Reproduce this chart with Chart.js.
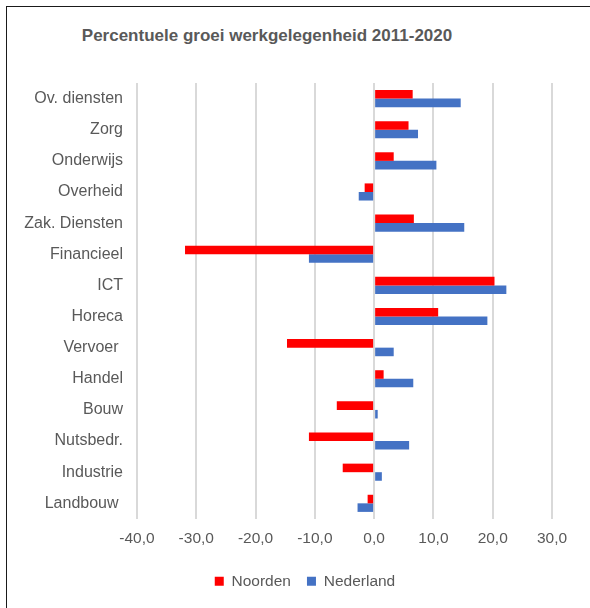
<!DOCTYPE html>
<html>
<head>
<meta charset="utf-8">
<script src="https://cdn.jsdelivr.net/npm/chart.js@4/dist/chart.umd.min.js"></script>
<style>
  html, body { margin: 0; padding: 0; background: #fff; }
  #wrap { position: relative; width: 590px; height: 608px; overflow: hidden; }
  #frame { position: absolute; left: 6px; top: 6px; width: 600px; height: 620px;
           border-left: 1.5px solid #1a1a1a; border-top: 1.5px solid #1a1a1a; box-sizing: border-box; }
  #title { position: absolute; left: 0; top: 25px; width: 534px; text-align: center;
           font: bold 17px "Liberation Sans", Arial, sans-serif; color: #595959; line-height: 22px; }
  canvas { position: absolute; left: 0; top: 0; }
</style>
</head>
<body>
<div id="wrap">
  <div id="frame"></div>
  <div id="title">Percentuele groei werkgelegenheid 2011-2020</div>
  <canvas id="c" width="590" height="608"></canvas>
</div>
<script>
const categories = ["Ov. diensten", "Zorg", "Onderwijs", "Overheid", "Zak. Diensten", "Financieel", "ICT", "Horeca", "Vervoer ", "Handel", "Bouw", "Nutsbedr.", "Industrie", "Landbouw "];
const noorden   = [6.5, 5.8, 3.3, -1.6, 6.7, -31.9, 20.3, 10.8, -14.7, 1.6, -6.3, -11.0, -5.3, -1.1];
const nederland = [14.6, 7.4, 10.5, -2.6, 15.2, -11.0, 22.3, 19.1, 3.3, 6.6, 0.6, 5.9, 1.3, -2.8];
const seriesNames = ["Noorden", "Nederland"];
const xTicks = [-40, -30, -20, -10, 0, 10, 20, 30];

const FONT = '"Liberation Sans", Arial, sans-serif';
const TXT = '#595959';

const legendShift = {
  id: 'legendShift',
  afterLayout(chart) {
    const lg = chart.legend;
    if (lg) { lg.left += 24; lg.right += 24; }
  }
};

new Chart(document.getElementById('c'), {
  type: 'bar',
  data: {
    labels: categories,
    datasets: [
      { label: seriesNames[0], data: noorden, backgroundColor: '#FF0000', categoryPercentage: 0.55, barPercentage: 1.0 },
      { label: seriesNames[1], data: nederland, backgroundColor: '#4472C4', categoryPercentage: 0.55, barPercentage: 1.0 }
    ]
  },
  plugins: [legendShift],
  options: {
    indexAxis: 'y',
    responsive: false,
    animation: false,
    layout: { padding: { left: 10, right: 38, top: 83, bottom: 9 } },
    plugins: {
      title: { display: false },
      tooltip: { enabled: false },
      legend: {
        position: 'bottom',
        labels: {
          boxWidth: 9, boxHeight: 9, padding: 16,
          color: TXT, font: { family: FONT, size: 15.5 }
        }
      }
    },
    scales: {
      x: {
        min: xTicks[0], max: xTicks[xTicks.length - 1],
        afterBuildTicks: (s) => { s.ticks = xTicks.map(v => ({ value: v })); },
        afterFit: (s) => { s.height -= 2; },
        grid: { color: '#d9d9d9', lineWidth: 2, drawTicks: false },
        border: { display: false },
        ticks: {
          padding: 11, color: TXT, font: { family: FONT, size: 15.5 },
          callback: (v) => Number(v).toFixed(1).replace('.', ',')
        }
      },
      y: {
        afterFit: (s) => { s.width = 127; },
        grid: { display: false, drawTicks: false },
        border: { display: false },
        ticks: { padding: 14, color: TXT, font: { family: FONT, size: 16 }, autoSkip: false }
      }
    }
  }
});
</script>
</body>
</html>
